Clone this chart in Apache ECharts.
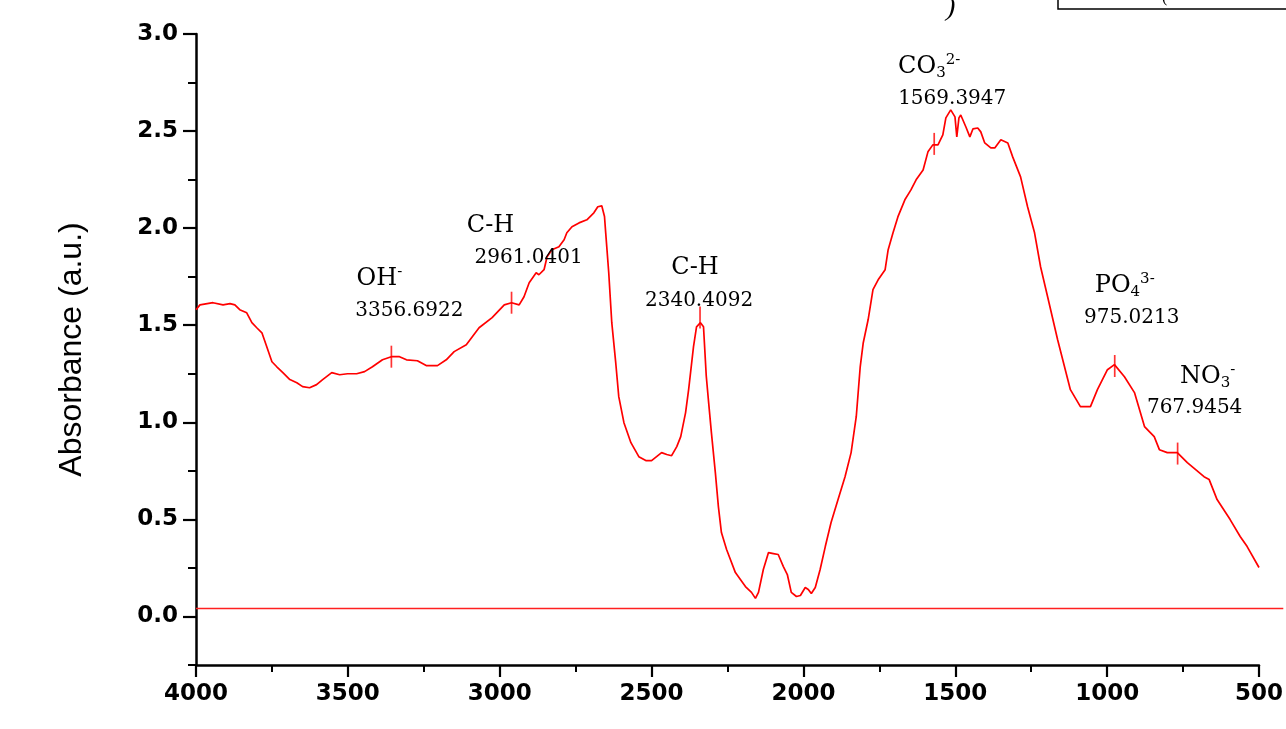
<!DOCTYPE html>
<html>
<head>
<meta charset="utf-8">
<script src="https://cdn.jsdelivr.net/npm/echarts@6/dist/echarts.min.js"></script>
<style>
html,body{margin:0;padding:0;background:#fff;}
#chart{width:1286px;height:729px;}
</style>
</head>
<body>
<div id="chart"></div>
<script>
// ---- data ----
const wavenumber = [4000,3987,3944,3911,3888,3872,3856,3833,3816,3800,3783,3767,3750,3734,3714,3691,3668,3649,3626,3603,3583,3553,3527,3501,3471,3445,3419,3386,3357,3330,3307,3271,3242,3205,3176,3150,3110,3068,3025,2985,2961,2936,2920,2903,2880,2871,2854,2844,2828,2805,2788,2779,2762,2739,2713,2690,2677,2664,2655,2651,2641,2631,2618,2608,2591,2568,2542,2519,2500,2467,2450,2434,2417,2404,2388,2378,2362,2352,2339,2329,2320,2312,2303,2290,2280,2270,2253,2224,2191,2171,2158,2148,2132,2115,2099,2083,2066,2053,2040,2023,2010,1994,1984,1974,1961,1945,1928,1909,1886,1863,1843,1826,1813,1803,1787,1771,1754,1731,1721,1705,1689,1666,1646,1629,1606,1590,1574,1557,1541,1531,1515,1501,1495,1488,1482,1465,1452,1442,1426,1416,1403,1383,1370,1350,1327,1311,1285,1262,1239,1219,1196,1163,1121,1088,1055,1032,999,976,943,910,877,845,828,802,769,736,681,664,638,595,562,539,500];
const absorbance = [1.58,1.605,1.616,1.605,1.611,1.605,1.58,1.564,1.513,1.487,1.461,1.389,1.312,1.286,1.256,1.22,1.204,1.184,1.178,1.194,1.22,1.256,1.245,1.25,1.25,1.261,1.286,1.322,1.338,1.338,1.322,1.317,1.292,1.292,1.322,1.364,1.40,1.487,1.539,1.605,1.616,1.605,1.647,1.719,1.77,1.76,1.786,1.853,1.889,1.904,1.94,1.976,2.007,2.027,2.043,2.079,2.11,2.115,2.06,1.976,1.77,1.513,1.307,1.132,0.998,0.895,0.823,0.803,0.803,0.844,0.834,0.828,0.875,0.926,1.05,1.168,1.389,1.492,1.513,1.492,1.24,1.10,0.947,0.741,0.566,0.432,0.345,0.226,0.154,0.124,0.093,0.124,0.242,0.329,0.324,0.319,0.257,0.216,0.124,0.103,0.108,0.149,0.139,0.118,0.149,0.242,0.36,0.484,0.602,0.72,0.844,1.03,1.286,1.41,1.528,1.683,1.734,1.786,1.889,1.976,2.058,2.146,2.197,2.249,2.30,2.393,2.429,2.429,2.48,2.568,2.609,2.573,2.47,2.568,2.583,2.521,2.47,2.511,2.516,2.496,2.439,2.413,2.413,2.455,2.439,2.367,2.264,2.11,1.976,1.80,1.647,1.425,1.168,1.081,1.081,1.168,1.271,1.297,1.235,1.153,0.978,0.926,0.859,0.844,0.844,0.792,0.72,0.705,0.602,0.499,0.412,0.36,0.252];
const baselineValue = 0.041;
const baselineRange = [4000, 500];
const baselineOverhang = 420;   // the baseline runs a little past the 500 tick

const peakWavenumber = [3356.6922, 2961.0401, 2340.4092, 1569.3947, 975.0213, 767.9454];
const peakMarkValue  = [1.338, 1.616, 1.54, 2.434, 1.29, 0.839];
const peakLabel      = ['3356.6922', '2961.0401', '2340.4092', '1569.3947', '975.0213', '767.9454'];
const peakBase       = ['OH', 'C-H', 'C-H', 'CO', 'PO', 'NO'];
const peakSub        = ['', '', '', '3', '4', '3'];
const peakSup        = ['-', '', '', '2-', '3-', '-'];

const xTickLabels = [4000, 3500, 3000, 2500, 2000, 1500, 1000, 500];
const yTickLabels = [0, 0.5, 1.0, 1.5, 2.0, 2.5, 3.0];
const yAxisName = 'Absorbance (a.u.)';

// ---- label layout (pixel offsets, style only) ----
const nameOffsets   = [[-12,-78],[-21,-77],[-5,-50],[-5,-77],[10,-80],[30,-77]];
const numberOffsets = [[18,-46],[17,-45],[-1,-17],[18,-45],[17,-48],[17,-46]];

const curve = wavenumber.map((w, i) => [w, absorbance[i]]);
const baseline = baselineRange.map(w => [w, baselineValue]);

const serif = '"DejaVu Serif", serif';
const sans = '"DejaVu Sans", sans-serif';

function speciesText(i) {
  let s = '{m|' + peakBase[i] + '}';
  if (peakSub[i]) s += '{sub|' + peakSub[i] + '}';
  if (peakSup[i]) s += '{sup|' + peakSup[i] + '}';
  return s;
}

const chart = echarts.init(document.getElementById('chart'), null, {renderer: 'canvas'});
chart.setOption({
  animation: false,
  backgroundColor: '#ffffff',
  grid: {left: 196, right: 24, top: 34, bottom: 64, containLabel: false},
  xAxis: {
    type: 'value', inverse: true, min: 500, max: 4000, interval: 500,
    axisLine: {show: true, onZero: false, lineStyle: {color: '#000', width: 2.5}},
    axisTick: {show: true, length: 12, lineStyle: {color: '#000', width: 2.2}},
    minorTick: {show: true, splitNumber: 2, length: 7, lineStyle: {color: '#000', width: 2}},
    axisLabel: {margin: 18, color: '#000', fontFamily: sans, fontWeight: 'bold', fontSize: 23,
      customValues: xTickLabels, formatter: v => String(v)},
    splitLine: {show: false}, minorSplitLine: {show: false}
  },
  yAxis: [{
    type: 'value', min: -0.25, max: 3.0, interval: 0.25,
    name: yAxisName, nameLocation: 'middle', nameGap: 108, nameRotate: 90,
    nameTextStyle: {fontFamily: '"Liberation Sans", Arial, sans-serif', fontSize: 32, color: '#000'},
    axisLine: {show: true, onZero: false, lineStyle: {color: '#000', width: 2.5}},
    axisTick: {show: true, length: 13, customValues: yTickLabels, lineStyle: {color: '#000', width: 2.2}},
    axisLabel: {margin: 18, color: '#000', fontFamily: sans, fontWeight: 'bold', fontSize: 23,
      customValues: yTickLabels, formatter: v => v.toFixed(1)},
    splitLine: {show: false}
  }, {
    type: 'value', min: -0.25, max: 3.0, interval: 0.25, position: 'left',
    axisLine: {show: false},
    axisTick: {show: true, length: 8, lineStyle: {color: '#000', width: 2}},
    axisLabel: {show: false},
    splitLine: {show: false}
  }],
  series: [
    {
      type: 'line', data: baseline, showSymbol: false, silent: true,
      lineStyle: {color: '#ff2020', width: 1.5}
    },
    {
      type: 'line', data: curve, showSymbol: false, silent: true,
      lineStyle: {color: '#ff0000', width: 1.7}, z: 3
    },
    {
      type: 'scatter', silent: true, z: 4,
      data: peakWavenumber.map((w, i) => [w, peakMarkValue[i]]),
      symbol: 'rect', symbolSize: [1.7, 22],
      itemStyle: {color: '#ff0000'}
    },
    {
      type: 'scatter', silent: true, z: 5, symbolSize: 0,
      itemStyle: {color: '#000', opacity: 0},
      data: peakWavenumber.map((w, i) => ({
        value: [w, peakMarkValue[i]],
        label: {offset: nameOffsets[i]}
      })),
      label: {
        show: true, position: 'inside', align: 'center', verticalAlign: 'middle',
        color: '#000', opacity: 1,
        formatter: p => speciesText(p.dataIndex),
        rich: {
          m:   {fontFamily: serif, fontSize: 24, color: '#000', lineHeight: 28, verticalAlign: 'middle'},
          sub: {fontFamily: serif, fontSize: 15, color: '#000', lineHeight: 10, verticalAlign: 'bottom'},
          sup: {fontFamily: serif, fontSize: 15, color: '#000', lineHeight: 10, verticalAlign: 'top'}
        }
      }
    },
    {
      type: 'scatter', silent: true, z: 5, symbolSize: 0,
      itemStyle: {color: '#000', opacity: 0},
      data: peakWavenumber.map((w, i) => ({
        value: [w, peakMarkValue[i]],
        label: {offset: numberOffsets[i]}
      })),
      label: {
        show: true, position: 'inside', align: 'center', verticalAlign: 'middle',
        fontFamily: serif, fontSize: 20, color: '#000', opacity: 1,
        formatter: p => peakLabel[p.dataIndex]
      }
    }
  ],
  graphic: [
    {type: 'rect', shape: {x: 1058, y: -40, width: 260, height: 49},
     style: {fill: 'none', stroke: '#000', lineWidth: 1.5}},
    {type: 'text', left: 946, top: -6,
     style: {text: ')', font: 'italic 28px "Liberation Serif", serif', fill: '#000'}},
    {type: 'text', left: 1162, top: -10,
     style: {text: '(', font: '16px "Liberation Serif", serif', fill: '#000'}}
  ]
});

// extend the baseline past the last tick, positioned through the chart's own scale
const pA = chart.convertToPixel({gridIndex: 0}, [baselineRange[1], baselineValue]);
const pB = chart.convertToPixel({gridIndex: 0}, [baselineOverhang, baselineValue]);
chart.setOption({
  graphic: [
    {type: 'rect', shape: {x: 1058, y: -40, width: 260, height: 49},
     style: {fill: 'none', stroke: '#000', lineWidth: 1.5}},
    {type: 'text', left: 946, top: -6,
     style: {text: ')', font: 'italic 28px "Liberation Serif", serif', fill: '#000'}},
    {type: 'text', left: 1162, top: -10,
     style: {text: '(', font: '16px "Liberation Serif", serif', fill: '#000'}},
    {type: 'line', shape: {x1: pA[0], y1: pA[1], x2: pB[0], y2: pB[1]},
     style: {stroke: '#ff2020', lineWidth: 1.5}, z: 2}
  ]
});
</script>
</body>
</html>
